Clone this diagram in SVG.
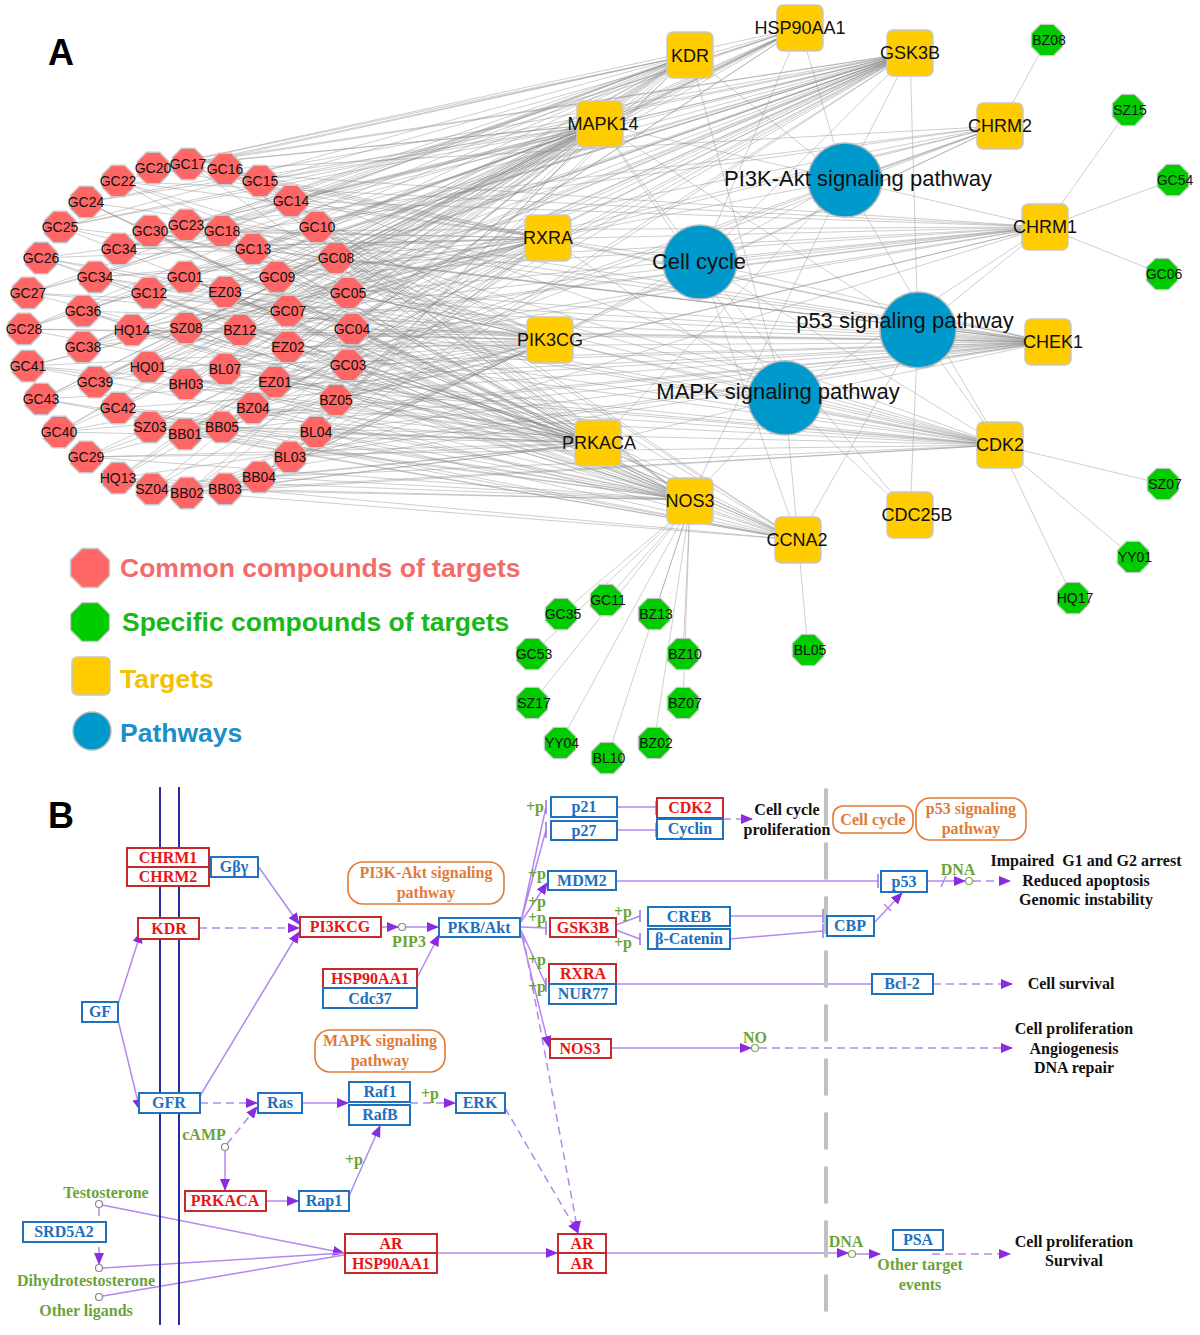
<svg xmlns="http://www.w3.org/2000/svg" width="1200" height="1335" viewBox="0 0 1200 1335">
<style>
.e{stroke:#8a8a8a;stroke-width:0.6;fill:none;opacity:0.7}
.ep{stroke:#9a9a9a;stroke-width:0.6;fill:none;opacity:0.8}
.ro{fill:#ff6666;stroke:#c8c8c8;stroke-width:1.5}
.go{fill:#00cc00;stroke:#c8c8c8;stroke-width:1.2}
.tg{fill:#ffcc00;stroke:#c8c8c8;stroke-width:1.5}
.pw{fill:#0099cc;stroke:#b8b8b8;stroke-width:1.5}
.sa{font-family:"Liberation Sans",Arial,sans-serif;fill:#111;text-anchor:middle}
.rl{font-size:14px}
.gl{font-size:14px}
.tl{font-size:18px}
.pl{font-size:22px}
.lg{font-family:"Liberation Sans",Arial,sans-serif;font-weight:bold;font-size:26.5px}
.big{font-family:"Liberation Sans",Arial,sans-serif;font-weight:bold;font-size:36px;fill:#000}
.bb{fill:#fff;stroke:#1f72c0;stroke-width:2}
.rb{fill:#fff;stroke:#c42a2a;stroke-width:2}
.sf{font-family:"Liberation Serif","Times New Roman",serif;font-weight:bold;font-size:16px;text-anchor:middle}
.bt{fill:#1f6fbf}
.rt{fill:#e81515}
.ot{fill:#e07b39}
.kt{fill:#111}
.gt{fill:#6ba33a}
.ob{fill:none;stroke:#e07b39;stroke-width:1.6}
.ln{stroke:#b488ee;stroke-width:1.5;fill:none}
.ds{stroke-dasharray:8 5}
.br{stroke:#a070e0;stroke-width:1.5;fill:none}
.ci{fill:#fff;stroke:#888;stroke-width:1.2}
.cg{fill:#fff;stroke:#7aab4a;stroke-width:1.2}
</style>
<defs>
<polygon id="o17" points="-6.5,-15.7 6.5,-15.7 15.7,-6.5 15.7,6.5 6.5,15.7 -6.5,15.7 -15.7,6.5 -15.7,-6.5"/>
<polygon id="o21" points="-8,-19.4 8,-19.4 19.4,-8 19.4,8 8,19.4 -8,19.4 -19.4,8 -19.4,-8"/>
<marker id="arr" viewBox="0 0 12 10" refX="11" refY="5" markerWidth="12" markerHeight="10" markerUnits="userSpaceOnUse" orient="auto"><path d="M0 0L12 5L0 10z" fill="#8a2be2"/></marker>
</defs>
<rect width="1200" height="1335" fill="#fff"/>

<g id="connectors">
<path class="e" d="M690 55L153 168L800 28M910 53L153 168L600 124M1045 227L153 168L548 238M600 124L188 164L910 53M690 55L188 164L550 340M1048 342L188 164L598 443M548 238L225 169L550 340M598 443L225 169L690 500M1000 445L225 169L1000 126M600 124L260 181L800 28M690 500L260 181L798 540M1048 342L260 181L910 53M690 55L118 181L548 238M550 340L118 181L1000 445M598 443L118 181L1045 227M910 53L86 202L600 124M598 443L86 202L690 500M798 540L86 202L1048 342M690 55L291 201L800 28M910 53L291 201L600 124M1045 227L291 201L548 238M600 124L60 227L910 53M690 55L60 227L550 340M1048 342L60 227L598 443M548 238L150 231L550 340M598 443L150 231L690 500M1000 445L150 231L1000 126M600 124L186 225L800 28M690 500L186 225L798 540M1048 342L186 225L910 53M690 55L222 231L548 238M550 340L222 231L1000 445M598 443L222 231L1045 227M910 53L317 227L600 124M598 443L317 227L690 500M798 540L317 227L1048 342M690 55L119 249L800 28M910 53L119 249L600 124M1045 227L119 249L548 238M600 124L253 249L910 53M690 55L253 249L550 340M1048 342L253 249L598 443M548 238L41 258L550 340M598 443L41 258L690 500M1000 445L41 258L1000 126M600 124L336 258L800 28M690 500L336 258L798 540M1048 342L336 258L910 53M690 55L95 277L548 238M550 340L95 277L1000 445M598 443L95 277L1045 227M910 53L185 277L600 124M598 443L185 277L690 500M798 540L185 277L1048 342M690 55L277 277L800 28M910 53L277 277L600 124M1045 227L277 277L548 238M600 124L28 293L910 53M690 55L28 293L550 340M1048 342L28 293L598 443M548 238L149 293L550 340M598 443L149 293L690 500M1000 445L149 293L1000 126M600 124L225 292L800 28M690 500L225 292L798 540M1048 342L225 292L910 53M690 55L348 293L548 238M550 340L348 293L1000 445M598 443L348 293L1045 227M910 53L83 311L600 124M598 443L83 311L690 500M798 540L83 311L1048 342M690 55L288 311L800 28M910 53L288 311L600 124M1045 227L288 311L548 238M600 124L24 329L910 53M690 55L24 329L550 340M1048 342L24 329L598 443M548 238L132 330L550 340M598 443L132 330L690 500M1000 445L132 330L1000 126M600 124L186 328L800 28M690 500L186 328L798 540M1048 342L186 328L910 53M690 55L240 330L548 238M550 340L240 330L1000 445M598 443L240 330L1045 227M910 53L352 329L600 124M598 443L352 329L690 500M798 540L352 329L1048 342M690 55L83 347L800 28M910 53L83 347L600 124M1045 227L83 347L548 238M600 124L288 347L910 53M690 55L288 347L550 340M1048 342L288 347L598 443M548 238L28 366L550 340M598 443L28 366L690 500M1000 445L28 366L1000 126M600 124L148 367L800 28M690 500L148 367L798 540M1048 342L148 367L910 53M690 55L225 369L548 238M550 340L225 369L1000 445M598 443L225 369L1045 227M910 53L348 365L600 124M598 443L348 365L690 500M798 540L348 365L1048 342M690 55L95 382L800 28M910 53L95 382L600 124M1045 227L95 382L548 238M600 124L186 384L910 53M690 55L186 384L550 340M1048 342L186 384L598 443M548 238L275 382L550 340M598 443L275 382L690 500M1000 445L275 382L1000 126M600 124L41 399L800 28M690 500L41 399L798 540M1048 342L41 399L910 53M690 55L336 400L548 238M550 340L336 400L1000 445M598 443L336 400L1045 227M910 53L118 408L600 124M598 443L118 408L690 500M798 540L118 408L1048 342M548 238L253 408L550 340M598 443L253 408L690 500M1000 445L253 408L1000 126M600 124L59 432L910 53M690 55L59 432L550 340M1048 342L59 432L598 443M910 53L150 427L600 124M598 443L150 427L690 500M798 540L150 427L1048 342M600 124L185 434L800 28M690 500L185 434L798 540M1048 342L185 434L910 53M690 55L222 427L548 238M550 340L222 427L1000 445M598 443L222 427L1045 227M910 53L316 432L600 124M598 443L316 432L690 500M798 540L316 432L1048 342M548 238L86 457L550 340M598 443L86 457L690 500M1000 445L86 457L1000 126M600 124L290 457L910 53M690 55L290 457L550 340M1048 342L290 457L598 443M600 124L118 478L800 28M690 500L118 478L798 540M1048 342L118 478L910 53M548 238L259 477L550 340M598 443L259 477L690 500M1000 445L259 477L1000 126M910 53L152 489L600 124M598 443L152 489L690 500M798 540L152 489L1048 342M690 55L187 493L548 238M550 340L187 493L1000 445M598 443L187 493L1045 227M548 238L225 489L550 340M598 443L225 489L690 500M1000 445L225 489L1000 126"/>
<path class="ep" d="M845 180L800 28M845 180L910 53M845 180L690 55M845 180L600 124M845 180L1000 126M845 180L1045 227M845 180L548 238M845 180L550 340M845 180L598 443M845 180L690 500M845 180L1000 445M700 262L910 53M700 262L600 124M700 262L1045 227M700 262L1048 342M700 262L1000 445M700 262L798 540M700 262L910 515M700 262L548 238M700 262L800 28M918 330L1048 342M918 330L1000 445M918 330L798 540M918 330L910 515M918 330L910 53M918 330L1045 227M918 330L600 124M785 398L600 124M785 398L690 55M785 398L598 443M785 398L910 515M785 398L690 500M785 398L1000 445M785 398L1045 227M785 398L1048 342M785 398L550 340M785 398L548 238M785 398L798 540"/>
<path class="ep" d="M1047 40L1000 126M1128 110L1045 227M1173 180L1045 227M1162 274L1045 227M1163 484L1000 445M1133 557L1000 445M1073 598L1000 445M808 650L798 540M690 505L606 600M690 505L561 614M690 505L654 614M690 505L532 654M690 505L683 654M690 505L532 703M690 505L683 703M690 505L560 743M690 505L607 758M690 505L654 743"/>

<line class="ln" x1="118" y1="1004" x2="141" y2="932" marker-end="url(#arr)"/>
<line class="ln" x1="118" y1="1020" x2="140" y2="1110" marker-end="url(#arr)"/>
<line class="ln ds" x1="199" y1="928" x2="299" y2="928" marker-end="url(#arr)"/>
<line class="ln" x1="258" y1="866" x2="299" y2="924" marker-end="url(#arr)"/>
<line class="ln" x1="200" y1="1096" x2="299" y2="932" marker-end="url(#arr)"/>
<line class="ln" x1="381" y1="927" x2="398" y2="927" marker-end="url(#arr)"/>
<line class="ln" x1="406" y1="927" x2="438" y2="927" marker-end="url(#arr)"/>
<line class="ln" x1="417" y1="978" x2="439" y2="935" marker-end="url(#arr)"/>
<path class="ln" d="M521 921L546 807M521 921L546 830M521 927L546 928M521 930L546 985"/>
<line class="ln" x1="521" y1="922" x2="547" y2="883" marker-end="url(#arr)"/>
<line class="ln" x1="521" y1="933" x2="549" y2="1047" marker-end="url(#arr)"/>
<line class="ln ds" x1="523" y1="935" x2="578" y2="1232" marker-end="url(#arr)"/>
<path class="ln" d="M617 807L656 807M617 830L656 830M616 881L878 881M616 925L640 916M616 930L640 939M730 916L823 916M730 939L823 931M616 984L872 984"/>
<path class="br" d="M546 800V814M546 822V838M546 921V935M546 978V992M656 801V815M656 823V837M878 874V888M640 910V922M640 933V945M823 909V923M823 924V938"/>
<line class="ln ds" x1="723" y1="819" x2="752" y2="819" marker-end="url(#arr)"/>
<line class="ln" x1="874" y1="923" x2="902" y2="893" marker-end="url(#arr)"/>
<path class="ln" d="M884 904L891 911M941 887L946 876"/>
<line class="ln" x1="927" y1="881" x2="965" y2="881" marker-end="url(#arr)"/>
<line class="ln ds" x1="973" y1="881" x2="1010" y2="881" marker-end="url(#arr)"/>
<line class="ln ds" x1="933" y1="984" x2="1012" y2="984" marker-end="url(#arr)"/>
<line class="ln" x1="611" y1="1048" x2="751" y2="1048" marker-end="url(#arr)"/>
<line class="ln ds" x1="759" y1="1048" x2="1012" y2="1048" marker-end="url(#arr)"/>
<line class="ln ds" x1="200" y1="1103" x2="257" y2="1103" marker-end="url(#arr)"/>
<line class="ln ds" x1="227" y1="1144" x2="257" y2="1107" marker-end="url(#arr)"/>
<line class="ln" x1="225" y1="1151" x2="225" y2="1190" marker-end="url(#arr)"/>
<line class="ln" x1="302" y1="1103" x2="348" y2="1103" marker-end="url(#arr)"/>
<line class="ln ds" x1="410" y1="1103" x2="455" y2="1103" marker-end="url(#arr)"/>
<line class="ln" x1="266" y1="1201" x2="298" y2="1201" marker-end="url(#arr)"/>
<line class="ln" x1="349" y1="1196" x2="380" y2="1126" marker-end="url(#arr)"/>
<line class="ln ds" x1="505" y1="1108" x2="578" y2="1233" marker-end="url(#arr)"/>
<line class="ln" x1="102" y1="1205" x2="344" y2="1253" marker-end="url(#arr)"/>
<line class="ln ds" x1="99" y1="1208" x2="99" y2="1264" marker-end="url(#arr)"/>
<line class="ln" x1="103" y1="1268" x2="344" y2="1253"/>
<line class="ln" x1="103" y1="1296" x2="344" y2="1255"/>
<line class="ln" x1="437" y1="1253" x2="557" y2="1253" marker-end="url(#arr)"/>
<line class="ln" x1="606" y1="1253" x2="848" y2="1253" marker-end="url(#arr)"/>
<line class="ln" x1="856" y1="1254" x2="880" y2="1254" marker-end="url(#arr)"/>
<line class="ln ds" x1="932" y1="1254" x2="1010" y2="1254" marker-end="url(#arr)"/>
</g>

<g id="pathways">
<g id="p-PI3K"><circle class="pw" cx="845" cy="180" r="37"/></g>
<g id="p-CC"><circle class="pw" cx="700" cy="262" r="37"/></g>
<g id="p-P53"><circle class="pw" cx="918" cy="330" r="38"/></g>
<g id="p-MAPK"><circle class="pw" cx="785" cy="398" r="37"/></g>
</g>

<g id="targets">
<g id="t-KDR"><rect class="tg" x="667" y="32" width="46" height="46" rx="6"/><text class="sa tl" x="690" y="62">KDR</text></g>
<g id="t-HSP90AA1"><rect class="tg" x="777" y="5" width="46" height="46" rx="6"/><text class="sa tl" x="800" y="34">HSP90AA1</text></g>
<g id="t-GSK3B"><rect class="tg" x="887" y="30" width="46" height="46" rx="6"/><text class="sa tl" x="910" y="59">GSK3B</text></g>
<g id="t-MAPK14"><rect class="tg" x="577" y="101" width="46" height="46" rx="6"/><text class="sa tl" x="603" y="130">MAPK14</text></g>
<g id="t-CHRM2"><rect class="tg" x="977" y="103" width="46" height="46" rx="6"/><text class="sa tl" x="1000" y="132">CHRM2</text></g>
<g id="t-RXRA"><rect class="tg" x="525" y="215" width="46" height="46" rx="6"/><text class="sa tl" x="548" y="244">RXRA</text></g>
<g id="t-CHRM1"><rect class="tg" x="1022" y="204" width="46" height="46" rx="6"/><text class="sa tl" x="1045" y="233">CHRM1</text></g>
<g id="t-PIK3CG"><rect class="tg" x="527" y="317" width="46" height="46" rx="6"/><text class="sa tl" x="550" y="346">PIK3CG</text></g>
<g id="t-CHEK1"><rect class="tg" x="1025" y="319" width="46" height="46" rx="6"/><text class="sa tl" x="1053" y="348">CHEK1</text></g>
<g id="t-PRKACA"><rect class="tg" x="575" y="420" width="46" height="46" rx="6"/><text class="sa tl" x="599" y="449">PRKACA</text></g>
<g id="t-CDK2"><rect class="tg" x="977" y="422" width="46" height="46" rx="6"/><text class="sa tl" x="1000" y="451">CDK2</text></g>
<g id="t-NOS3"><rect class="tg" x="667" y="478" width="46" height="46" rx="6"/><text class="sa tl" x="690" y="507">NOS3</text></g>
<g id="t-CDC25B"><rect class="tg" x="887" y="492" width="46" height="46" rx="6"/><text class="sa tl" x="917" y="521">CDC25B</text></g>
<g id="t-CCNA2"><rect class="tg" x="775" y="517" width="46" height="46" rx="6"/><text class="sa tl" x="797" y="546">CCNA2</text></g>
</g>

<g id="pathway-labels">
<text class="sa pl" x="858" y="186">PI3K-Akt signaling pathway</text>
<text class="sa pl" x="699" y="269">Cell cycle</text>
<text class="sa pl" x="905" y="328">p53 signaling pathway</text>
<text class="sa pl" x="778" y="399">MAPK signaling pathway</text>
</g>

<g id="common">
<g id="c-GC20"><use href="#o17" class="ro" x="153" y="168"/><text class="sa rl" x="153" y="173">GC20</text></g>
<g id="c-GC17"><use href="#o17" class="ro" x="188" y="164"/><text class="sa rl" x="188" y="169">GC17</text></g>
<g id="c-GC16"><use href="#o17" class="ro" x="225" y="169"/><text class="sa rl" x="225" y="174">GC16</text></g>
<g id="c-GC15"><use href="#o17" class="ro" x="260" y="181"/><text class="sa rl" x="260" y="186">GC15</text></g>
<g id="c-GC22"><use href="#o17" class="ro" x="118" y="181"/><text class="sa rl" x="118" y="186">GC22</text></g>
<g id="c-GC24"><use href="#o17" class="ro" x="86" y="202"/><text class="sa rl" x="86" y="207">GC24</text></g>
<g id="c-GC14"><use href="#o17" class="ro" x="291" y="201"/><text class="sa rl" x="291" y="206">GC14</text></g>
<g id="c-GC25"><use href="#o17" class="ro" x="60" y="227"/><text class="sa rl" x="60" y="232">GC25</text></g>
<g id="c-GC30"><use href="#o17" class="ro" x="150" y="231"/><text class="sa rl" x="150" y="236">GC30</text></g>
<g id="c-GC23"><use href="#o17" class="ro" x="186" y="225"/><text class="sa rl" x="186" y="230">GC23</text></g>
<g id="c-GC18"><use href="#o17" class="ro" x="222" y="231"/><text class="sa rl" x="222" y="236">GC18</text></g>
<g id="c-GC10"><use href="#o17" class="ro" x="317" y="227"/><text class="sa rl" x="317" y="232">GC10</text></g>
<g id="c-GC34a"><use href="#o17" class="ro" x="119" y="249"/><text class="sa rl" x="119" y="254">GC34</text></g>
<g id="c-GC13"><use href="#o17" class="ro" x="253" y="249"/><text class="sa rl" x="253" y="254">GC13</text></g>
<g id="c-GC26"><use href="#o17" class="ro" x="41" y="258"/><text class="sa rl" x="41" y="263">GC26</text></g>
<g id="c-GC08"><use href="#o17" class="ro" x="336" y="258"/><text class="sa rl" x="336" y="263">GC08</text></g>
<g id="c-GC34b"><use href="#o17" class="ro" x="95" y="277"/><text class="sa rl" x="95" y="282">GC34</text></g>
<g id="c-GC01"><use href="#o17" class="ro" x="185" y="277"/><text class="sa rl" x="185" y="282">GC01</text></g>
<g id="c-GC09"><use href="#o17" class="ro" x="277" y="277"/><text class="sa rl" x="277" y="282">GC09</text></g>
<g id="c-GC27"><use href="#o17" class="ro" x="28" y="293"/><text class="sa rl" x="28" y="298">GC27</text></g>
<g id="c-GC12"><use href="#o17" class="ro" x="149" y="293"/><text class="sa rl" x="149" y="298">GC12</text></g>
<g id="c-EZ03"><use href="#o17" class="ro" x="225" y="292"/><text class="sa rl" x="225" y="297">EZ03</text></g>
<g id="c-GC05"><use href="#o17" class="ro" x="348" y="293"/><text class="sa rl" x="348" y="298">GC05</text></g>
<g id="c-GC36"><use href="#o17" class="ro" x="83" y="311"/><text class="sa rl" x="83" y="316">GC36</text></g>
<g id="c-GC07"><use href="#o17" class="ro" x="288" y="311"/><text class="sa rl" x="288" y="316">GC07</text></g>
<g id="c-GC28"><use href="#o17" class="ro" x="24" y="329"/><text class="sa rl" x="24" y="334">GC28</text></g>
<g id="c-HQ14"><use href="#o17" class="ro" x="132" y="330"/><text class="sa rl" x="132" y="335">HQ14</text></g>
<g id="c-SZ08"><use href="#o17" class="ro" x="186" y="328"/><text class="sa rl" x="186" y="333">SZ08</text></g>
<g id="c-BZ12"><use href="#o17" class="ro" x="240" y="330"/><text class="sa rl" x="240" y="335">BZ12</text></g>
<g id="c-GC04"><use href="#o17" class="ro" x="352" y="329"/><text class="sa rl" x="352" y="334">GC04</text></g>
<g id="c-GC38"><use href="#o17" class="ro" x="83" y="347"/><text class="sa rl" x="83" y="352">GC38</text></g>
<g id="c-EZ02"><use href="#o17" class="ro" x="288" y="347"/><text class="sa rl" x="288" y="352">EZ02</text></g>
<g id="c-GC41"><use href="#o17" class="ro" x="28" y="366"/><text class="sa rl" x="28" y="371">GC41</text></g>
<g id="c-HQ01"><use href="#o17" class="ro" x="148" y="367"/><text class="sa rl" x="148" y="372">HQ01</text></g>
<g id="c-BL07"><use href="#o17" class="ro" x="225" y="369"/><text class="sa rl" x="225" y="374">BL07</text></g>
<g id="c-GC03"><use href="#o17" class="ro" x="348" y="365"/><text class="sa rl" x="348" y="370">GC03</text></g>
<g id="c-GC39"><use href="#o17" class="ro" x="95" y="382"/><text class="sa rl" x="95" y="387">GC39</text></g>
<g id="c-BH03"><use href="#o17" class="ro" x="186" y="384"/><text class="sa rl" x="186" y="389">BH03</text></g>
<g id="c-EZ01"><use href="#o17" class="ro" x="275" y="382"/><text class="sa rl" x="275" y="387">EZ01</text></g>
<g id="c-GC43"><use href="#o17" class="ro" x="41" y="399"/><text class="sa rl" x="41" y="404">GC43</text></g>
<g id="c-BZ05"><use href="#o17" class="ro" x="336" y="400"/><text class="sa rl" x="336" y="405">BZ05</text></g>
<g id="c-GC42"><use href="#o17" class="ro" x="118" y="408"/><text class="sa rl" x="118" y="413">GC42</text></g>
<g id="c-BZ04"><use href="#o17" class="ro" x="253" y="408"/><text class="sa rl" x="253" y="413">BZ04</text></g>
<g id="c-GC40"><use href="#o17" class="ro" x="59" y="432"/><text class="sa rl" x="59" y="437">GC40</text></g>
<g id="c-SZ03"><use href="#o17" class="ro" x="150" y="427"/><text class="sa rl" x="150" y="432">SZ03</text></g>
<g id="c-BB01"><use href="#o17" class="ro" x="185" y="434"/><text class="sa rl" x="185" y="439">BB01</text></g>
<g id="c-BB05"><use href="#o17" class="ro" x="222" y="427"/><text class="sa rl" x="222" y="432">BB05</text></g>
<g id="c-BL04"><use href="#o17" class="ro" x="316" y="432"/><text class="sa rl" x="316" y="437">BL04</text></g>
<g id="c-GC29"><use href="#o17" class="ro" x="86" y="457"/><text class="sa rl" x="86" y="462">GC29</text></g>
<g id="c-BL03"><use href="#o17" class="ro" x="290" y="457"/><text class="sa rl" x="290" y="462">BL03</text></g>
<g id="c-HQ13"><use href="#o17" class="ro" x="118" y="478"/><text class="sa rl" x="118" y="483">HQ13</text></g>
<g id="c-BB04"><use href="#o17" class="ro" x="259" y="477"/><text class="sa rl" x="259" y="482">BB04</text></g>
<g id="c-SZ04"><use href="#o17" class="ro" x="152" y="489"/><text class="sa rl" x="152" y="494">SZ04</text></g>
<g id="c-BB02"><use href="#o17" class="ro" x="187" y="493"/><text class="sa rl" x="187" y="498">BB02</text></g>
<g id="c-BB03"><use href="#o17" class="ro" x="225" y="489"/><text class="sa rl" x="225" y="494">BB03</text></g>
</g>

<g id="specific">
<g id="s-BZ08"><use href="#o17" class="go" x="1047" y="40"/><text class="sa gl" x="1049" y="45">BZ08</text></g>
<g id="s-SZ15"><use href="#o17" class="go" x="1128" y="110"/><text class="sa gl" x="1130" y="115">SZ15</text></g>
<g id="s-GC54"><use href="#o17" class="go" x="1173" y="180"/><text class="sa gl" x="1175" y="185">GC54</text></g>
<g id="s-GC06"><use href="#o17" class="go" x="1162" y="274"/><text class="sa gl" x="1164" y="279">GC06</text></g>
<g id="s-SZ07"><use href="#o17" class="go" x="1163" y="484"/><text class="sa gl" x="1165" y="489">SZ07</text></g>
<g id="s-YY01"><use href="#o17" class="go" x="1133" y="557"/><text class="sa gl" x="1135" y="562">YY01</text></g>
<g id="s-HQ17"><use href="#o17" class="go" x="1073" y="598"/><text class="sa gl" x="1075" y="603">HQ17</text></g>
<g id="s-BL05"><use href="#o17" class="go" x="808" y="650"/><text class="sa gl" x="810" y="655">BL05</text></g>
<g id="s-GC11"><use href="#o17" class="go" x="606" y="600"/><text class="sa gl" x="608" y="605">GC11</text></g>
<g id="s-GC35"><use href="#o17" class="go" x="561" y="614"/><text class="sa gl" x="563" y="619">GC35</text></g>
<g id="s-BZ13"><use href="#o17" class="go" x="654" y="614"/><text class="sa gl" x="656" y="619">BZ13</text></g>
<g id="s-GC53"><use href="#o17" class="go" x="532" y="654"/><text class="sa gl" x="534" y="659">GC53</text></g>
<g id="s-BZ10"><use href="#o17" class="go" x="683" y="654"/><text class="sa gl" x="685" y="659">BZ10</text></g>
<g id="s-SZ17"><use href="#o17" class="go" x="532" y="703"/><text class="sa gl" x="534" y="708">SZ17</text></g>
<g id="s-BZ07"><use href="#o17" class="go" x="683" y="703"/><text class="sa gl" x="685" y="708">BZ07</text></g>
<g id="s-YY04"><use href="#o17" class="go" x="560" y="743"/><text class="sa gl" x="562" y="748">YY04</text></g>
<g id="s-BL10"><use href="#o17" class="go" x="607" y="758"/><text class="sa gl" x="609" y="763">BL10</text></g>
<g id="s-BZ02"><use href="#o17" class="go" x="654" y="743"/><text class="sa gl" x="656" y="748">BZ02</text></g>
</g>

<g id="legend">
<text class="big" x="48" y="65">A</text>
<use href="#o21" class="ro" x="90" y="568"/>
<text class="lg" x="120" y="577" fill="#f36b6b">Common compounds of targets</text>
<use href="#o21" class="go" x="90" y="622"/>
<text class="lg" x="122" y="631" fill="#19b819">Specific compounds of targets</text>
<rect class="tg" x="72" y="657" width="38" height="38" rx="5"/>
<text class="lg" x="120" y="688" fill="#f5c000">Targets</text>
<circle class="pw" cx="92" cy="731" r="19"/>
<text class="lg" x="120" y="742" fill="#1b8fc9">Pathways</text>
<text class="big" x="48" y="828">B</text>
</g>

<g id="membrane">
<path d="M160 787V1325M179 787V1325" stroke="#2a2a9a" stroke-width="2" fill="none"/>
<path d="M826 790V1330" stroke="#c0c0c0" stroke-width="4" stroke-dasharray="34 20" stroke-linecap="round" fill="none"/>
</g>

<g id="panelB-nodes">
<g id="b-CHRM"><rect class="rb" x="127" y="848" width="82" height="19"/><rect class="rb" x="127" y="867" width="82" height="19"/><text class="sf rt" x="168" y="863">CHRM1</text><text class="sf rt" x="168" y="882">CHRM2</text></g>
<g id="b-Gby"><rect class="bb" x="211" y="857" width="47" height="20"/><text class="sf bt" x="234" y="872">Gβγ</text></g>
<g id="b-KDR"><rect class="rb" x="138" y="918" width="61" height="21"/><text class="sf rt" x="169" y="934">KDR</text></g>
<g id="b-PI3KCG"><rect class="rb" x="300" y="917" width="81" height="20"/><text class="sf rt" x="340" y="932">PI3KCG</text></g>
<g id="b-PKB"><rect class="bb" x="439" y="918" width="81" height="19"/><text class="sf bt" x="479" y="933">PKB/Akt</text></g>
<g id="b-HSP"><rect class="rb" x="323" y="969" width="94" height="19"/><rect class="bb" x="323" y="988" width="94" height="20"/><text class="sf rt" x="370" y="984">HSP90AA1</text><text class="sf bt" x="370" y="1004">Cdc37</text></g>
<g id="b-GF"><rect class="bb" x="82" y="1002" width="36" height="20"/><text class="sf bt" x="100" y="1017">GF</text></g>
<g id="b-GFR"><rect class="bb" x="139" y="1093" width="61" height="20"/><text class="sf bt" x="169" y="1108">GFR</text></g>
<g id="b-Ras"><rect class="bb" x="258" y="1093" width="44" height="20"/><text class="sf bt" x="280" y="1108">Ras</text></g>
<g id="b-Raf"><rect class="bb" x="349" y="1082" width="61" height="20"/><rect class="bb" x="349" y="1105" width="61" height="20"/><text class="sf bt" x="380" y="1097">Raf1</text><text class="sf bt" x="380" y="1120">RafB</text></g>
<g id="b-ERK"><rect class="bb" x="456" y="1093" width="49" height="20"/><text class="sf bt" x="480" y="1108">ERK</text></g>
<g id="b-PRKACA"><rect class="rb" x="185" y="1191" width="81" height="20"/><text class="sf rt" x="225" y="1206">PRKACA</text></g>
<g id="b-Rap1"><rect class="bb" x="299" y="1191" width="50" height="20"/><text class="sf bt" x="324" y="1206">Rap1</text></g>
<g id="b-SRD5A2"><rect class="bb" x="23" y="1222" width="83" height="20"/><text class="sf bt" x="64" y="1237">SRD5A2</text></g>
<g id="b-ARHSP"><rect class="rb" x="345" y="1234" width="92" height="19"/><rect class="rb" x="345" y="1253" width="92" height="20"/><text class="sf rt" x="391" y="1249">AR</text><text class="sf rt" x="391" y="1269">HSP90AA1</text></g>
<g id="b-ARAR"><rect class="rb" x="558" y="1234" width="48" height="19"/><rect class="rb" x="558" y="1253" width="48" height="20"/><text class="sf rt" x="582" y="1249">AR</text><text class="sf rt" x="582" y="1269">AR</text></g>
<g id="b-p21"><rect class="bb" x="551" y="797" width="66" height="20"/><text class="sf bt" x="584" y="812">p21</text></g>
<g id="b-p27"><rect class="bb" x="551" y="821" width="66" height="19"/><text class="sf bt" x="584" y="836">p27</text></g>
<g id="b-CDK2"><rect class="rb" x="657" y="798" width="66" height="20"/><rect class="bb" x="657" y="819" width="66" height="20"/><text class="sf rt" x="690" y="813">CDK2</text><text class="sf bt" x="690" y="834">Cyclin</text></g>
<g id="b-MDM2"><rect class="bb" x="548" y="871" width="68" height="19"/><text class="sf bt" x="582" y="886">MDM2</text></g>
<g id="b-GSK3B"><rect class="rb" x="550" y="918" width="66" height="19"/><text class="sf rt" x="583" y="933">GSK3B</text></g>
<g id="b-CREB"><rect class="bb" x="648" y="907" width="82" height="19"/><text class="sf bt" x="689" y="922">CREB</text></g>
<g id="b-bCat"><rect class="bb" x="648" y="929" width="82" height="20"/><text class="sf bt" x="689" y="944">β-Catenin</text></g>
<g id="b-RXRA"><rect class="rb" x="549" y="964" width="67" height="20"/><rect class="bb" x="549" y="984" width="67" height="20"/><text class="sf rt" x="583" y="979">RXRA</text><text class="sf bt" x="583" y="999">NUR77</text></g>
<g id="b-NOS3"><rect class="rb" x="550" y="1039" width="61" height="19"/><text class="sf rt" x="580" y="1054">NOS3</text></g>
<g id="b-p53"><rect class="bb" x="881" y="871" width="46" height="21"/><text class="sf bt" x="904" y="887">p53</text></g>
<g id="b-CBP"><rect class="bb" x="827" y="916" width="47" height="20"/><text class="sf bt" x="850" y="931">CBP</text></g>
<g id="b-Bcl2"><rect class="bb" x="872" y="974" width="61" height="20"/><text class="sf bt" x="902" y="989">Bcl-2</text></g>
<g id="b-PSA"><rect class="bb" x="893" y="1230" width="50" height="20"/><text class="sf bt" x="918" y="1245">PSA</text></g>

<g id="b-pw1"><rect class="ob" x="348" y="862" width="156" height="42" rx="15"/><text class="sf ot" x="426" y="878">PI3K-Akt signaling</text><text class="sf ot" x="426" y="898">pathway</text></g>
<g id="b-pw2"><rect class="ob" x="315" y="1030" width="130" height="42" rx="15"/><text class="sf ot" x="380" y="1046">MAPK signaling</text><text class="sf ot" x="380" y="1066">pathway</text></g>
<g id="b-pw3"><rect class="ob" x="833" y="806" width="80" height="27" rx="10"/><text class="sf ot" x="873" y="825">Cell cycle</text></g>
<g id="b-pw4"><rect class="ob" x="916" y="798" width="110" height="42" rx="14"/><text class="sf ot" x="971" y="814">p53 signaling</text><text class="sf ot" x="971" y="834">pathway</text></g>

<g id="b-small">
<circle class="ci" cx="402" cy="927" r="3.5"/>
<circle class="cg" cx="969" cy="881" r="3.5"/>
<circle class="cg" cx="755" cy="1048" r="3.5"/>
<circle class="ci" cx="225" cy="1147" r="3.5"/>
<circle class="ci" cx="99" cy="1204" r="3.5"/>
<circle class="ci" cx="99" cy="1268" r="3.5"/>
<circle class="ci" cx="99" cy="1297" r="3.5"/>
<circle class="cg" cx="852" cy="1254" r="3.5"/>
</g>

<g id="b-texts">
<text class="sf kt" x="787" y="815">Cell cycle</text>
<text class="sf kt" x="787" y="835">proliferation</text>
<text class="sf kt" x="1086" y="866">Impaired&#160; G1 and G2 arrest</text>
<text class="sf kt" x="1086" y="886">Reduced apoptosis</text>
<text class="sf kt" x="1086" y="905">Genomic instability</text>
<text class="sf kt" x="1071" y="989">Cell survival</text>
<text class="sf kt" x="1074" y="1034">Cell proliferation</text>
<text class="sf kt" x="1074" y="1054">Angiogenesis</text>
<text class="sf kt" x="1074" y="1073">DNA repair</text>
<text class="sf kt" x="1074" y="1247">Cell proliferation</text>
<text class="sf kt" x="1074" y="1266">Survival</text>
<text class="sf gt" x="409" y="947">PIP3</text>
<text class="sf gt" x="204" y="1140">cAMP</text>
<text class="sf gt" x="106" y="1198">Testosterone</text>
<text class="sf gt" x="86" y="1286">Dihydrotestosterone</text>
<text class="sf gt" x="86" y="1316">Other ligands</text>
<text class="sf gt" x="755" y="1043">NO</text>
<text class="sf gt" x="958" y="875">DNA</text>
<text class="sf gt" x="846" y="1247">DNA</text>
<text class="sf gt" x="920" y="1270">Other target</text>
<text class="sf gt" x="920" y="1290">events</text>
<text class="sf gt" x="535" y="812">+p</text>
<text class="sf gt" x="537" y="879">+p</text>
<text class="sf gt" x="537" y="907">+p</text>
<text class="sf gt" x="537" y="923">+p</text>
<text class="sf gt" x="537" y="965">+p</text>
<text class="sf gt" x="537" y="992">+p</text>
<text class="sf gt" x="623" y="917">+p</text>
<text class="sf gt" x="623" y="948">+p</text>
<text class="sf gt" x="430" y="1099">+p</text>
<text class="sf gt" x="354" y="1165">+p</text>
</g>
</g>
</svg>
